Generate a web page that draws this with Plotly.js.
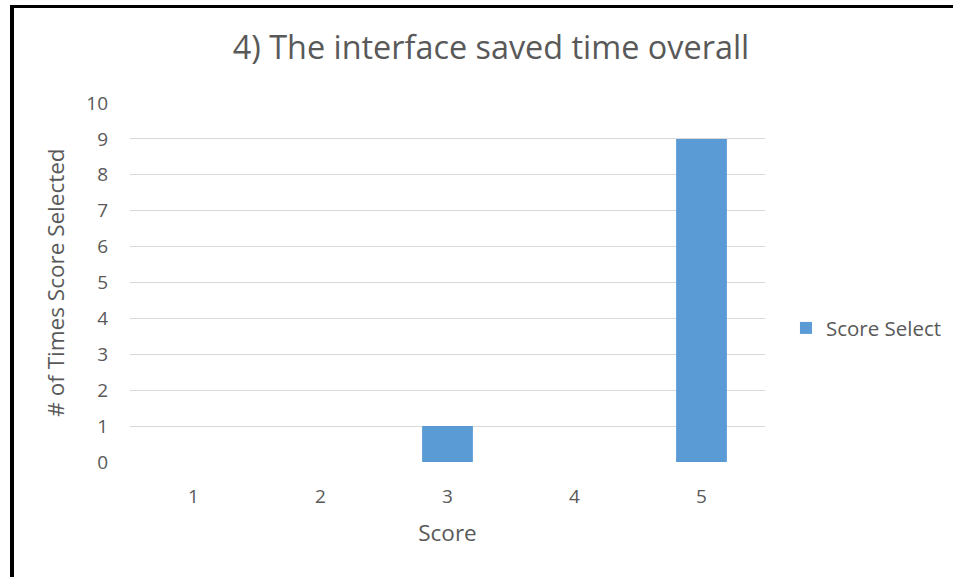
<!DOCTYPE html>
<html>
<head>
<meta charset="utf-8">
<script src="https://cdn.plot.ly/plotly-3.0.1.min.js"></script>
<style>
  html, body { margin: 0; padding: 0; background: #fff; }
  #wrap { position: relative; width: 963px; height: 577px; }
  #chart { width: 963px; height: 577px; }
  #frame { position: absolute; left: 10px; top: 5px; width: 943px; height: 572px;
           border-left: 4px solid #000; border-top: 3px solid #000; box-sizing: border-box; pointer-events: none; }
</style>
</head>
<body>
<div id="wrap">
  <div id="chart"></div>
  <div id="frame"></div>
</div>
<script>
const categories = ['1', '2', '3', '4', '5'];
const scoreSelect = [0, 0, 1, 0, 9];
const seriesName = 'Score Select';
const yTicks = [0, 1, 2, 3, 4, 5, 6, 7, 8, 9, 10];

const textColor = '#595959';
const fontFamily = '"Open Sans", "Noto Sans", sans-serif';

const data = [{
  type: 'bar',
  x: categories,
  y: scoreSelect,
  name: seriesName,
  marker: { color: '#5B9BD5' },
  showlegend: true
}];

const layout = {
  width: 963,
  height: 577,
  margin: { l: 130, r: 198, t: 103, b: 115 },
  paper_bgcolor: '#fff',
  plot_bgcolor: '#fff',
  font: { family: fontFamily, color: textColor, size: 19 },
  title: {
    text: '4) The interface saved time overall',
    font: { size: 32.4, color: textColor, family: fontFamily },
    x: 0.5685, xref: 'paper', xanchor: 'center',
    y: 0.917, yref: 'container', yanchor: 'middle'
  },
  bargap: 0.6,
  xaxis: {
    type: 'category',
    title: { text: 'Score', font: { size: 22.5, color: textColor }, standoff: 17 },
    showgrid: false,
    zeroline: false,
    showline: false,
    ticks: '',
    ticklabelstandoff: 21,
    tickfont: { size: 19, color: textColor }
  },
  yaxis: {
    range: [0, 10],
    tickvals: yTicks,
    ticktext: yTicks.map(String),
    showgrid: true,
    gridcolor: '#D9D9D9',
    gridwidth: 1,
    zeroline: false,
    showline: false,
    ticks: '',
    ticklabelstandoff: 21,
    tickfont: { size: 19, color: textColor },
    title: { text: '# of Times Score Selected', font: { size: 22.5, color: textColor }, standoff: 15 }
  },
  legend: {
    x: 1.033, xanchor: 'left',
    y: 0.373, yanchor: 'middle',
    font: { size: 20.5, color: textColor },
    itemwidth: 30
  }
};

Plotly.newPlot('chart', data, layout, { staticPlot: true, displayModeBar: false });
</script>
</body>
</html>
